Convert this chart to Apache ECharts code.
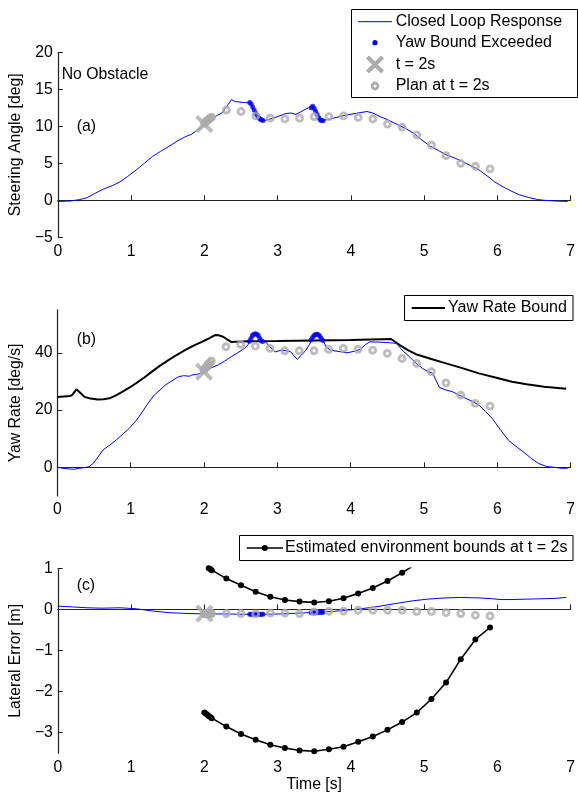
<!DOCTYPE html>
<html><head><meta charset="utf-8">
<script src="https://cdn.jsdelivr.net/npm/echarts@6/dist/echarts.min.js"></script>
<style>html,body{margin:0;padding:0;background:#fff}#c{width:578px;height:794px}</style>
</head><body><div id="c"></div><script>
// ---------- data ----------
const xTicks = [0,1,2,3,4,5,6,7];
const yTicksA = [-5,0,5,10,15,20];
const yTicksB = [0,20,40];
const yTicksC = [-3,-2,-1,0,1];

// (a) steering angle, closed loop response
const steerT = [0,0.17,0.3,0.4,0.5,0.62,0.75,0.85,0.95,1.07,1.18,1.29,1.4,1.52,1.63,1.74,1.82,1.88,1.95,2.01,2.1,2.18,2.24,2.3,2.37,2.42,2.46,2.55,2.62,2.66,2.70,2.74,2.78,2.82,2.87,3.0,3.1,3.18,3.25,3.36,3.42,3.47,3.52,3.56,3.60,3.68,3.76,3.95,4.1,4.22,4.3,4.4,4.5,4.62,4.75,4.85,4.95,5.07,5.2,5.3,5.42,5.52,5.63,5.75,5.86,5.96,6.08,6.2,6.3,6.42,6.55,6.64,6.8,6.96];
const steerV = [-0.15,-0.1,0.1,0.35,0.9,1.5,2.0,2.5,3.2,4.1,5.0,5.9,6.6,7.3,8.0,8.6,8.9,9.3,9.8,10.4,11.0,11.5,11.8,12.6,13.6,13.35,13.3,13.2,13.2,12.6,11.8,11.2,10.9,10.8,10.9,11.3,11.7,11.8,11.6,12.2,12.5,12.7,12.0,11.2,10.8,10.9,11.1,11.55,11.8,12.0,11.8,11.3,10.9,10.3,9.7,9.1,8.3,7.4,6.7,6.15,5.7,5.25,4.7,4.1,3.3,2.5,1.8,1.2,0.75,0.4,0.1,0.0,-0.1,-0.15];

// (b) yaw rate, closed loop response
const yawT = [0,0.1,0.22,0.3,0.37,0.43,0.49,0.55,0.62,0.7,0.8,0.9,0.98,1.07,1.16,1.24,1.32,1.4,1.47,1.55,1.65,1.72,1.8,1.83,1.92,2.01,2.1,2.19,2.28,2.37,2.46,2.55,2.6,2.62,2.66,2.70,2.74,2.78,2.84,2.9,2.97,3.05,3.13,3.18,3.27,3.33,3.39,3.44,3.48,3.54,3.58,3.62,3.67,3.72,3.8,3.95,4.05,4.13,4.2,4.26,4.4,4.53,4.62,4.7,4.8,4.9,4.98,5.05,5.12,5.21,5.3,5.39,5.48,5.57,5.66,5.75,5.84,5.93,6.04,6.15,6.27,6.38,6.47,6.56,6.67,6.78,6.87,6.96];
const yawV = [0,-0.4,-0.7,-0.3,-0.1,0.2,1.4,3.5,6.0,7.5,9.5,11.8,13.6,16.2,19.4,22.5,25.2,27.0,28.7,30.0,31.6,32.0,31.8,32.2,32.6,33.4,34.8,35.7,37.1,38.6,40.0,41.5,42.8,44.0,46.0,46.6,46.0,44.2,43.8,42.0,40.3,40.9,40.7,40.4,37.7,39.2,40.9,43.0,45.3,46.5,45.8,44.3,42.0,40.9,40.6,40.0,40.5,41.2,42.8,43.8,43.7,43.5,43.3,41.0,38.6,36.2,34.5,33.5,32.8,27.9,27.0,26.4,25.2,24.1,23.0,21.7,19.5,17.1,13.2,9.5,7.0,4.9,3.0,1.4,0.3,0,-0.3,-0.35];

// (b) yaw rate bound
const boundT = [0,0.17,0.2,0.26,0.3,0.37,0.45,0.55,0.63,0.71,0.8,0.89,0.98,1.07,1.18,1.29,1.4,1.52,1.63,1.74,1.85,1.97,2.05,2.15,2.2,2.26,2.32,2.37,2.6,3.0,3.5,4.0,4.55,4.67,4.78,4.89,5.1,5.3,5.5,5.75,6.0,6.2,6.4,6.64,6.94];
const boundV = [24.6,24.9,25.2,27.2,26.3,24.6,24.0,23.7,23.8,24.1,25.1,26.4,27.8,29.3,31.3,33.4,35.5,37.5,39.3,40.9,42.4,43.8,44.8,46.2,46.1,45.6,44.6,43.8,44.0,44.1,44.3,44.5,44.8,42.7,40.9,39.5,37.8,36.3,34.8,32.8,31.2,29.9,29.0,28.1,27.4];

// (c) lateral error, closed loop response
const latT = [0,0.2,0.4,0.6,0.85,1.07,1.3,1.52,1.79,2.0,2.3,2.6,2.8,3.05,3.3,3.5,3.75,3.95,4.2,4.4,4.6,4.85,5.05,5.3,5.5,5.75,5.93,6.05,6.2,6.4,6.64,6.8,6.94];
const latV = [0.08,0.06,0.04,0.03,0.04,0.015,-0.04,-0.08,-0.1,-0.11,-0.11,-0.12,-0.12,-0.11,-0.09,-0.07,-0.05,-0.02,0.03,0.08,0.14,0.21,0.25,0.28,0.29,0.28,0.26,0.24,0.24,0.25,0.26,0.27,0.29];

// yaw bound exceeded samples
const exT = [2.62,2.64,2.66,2.68,2.70,2.72,2.74,2.76,2.78,2.80,3.46,3.48,3.50,3.52,3.54,3.56,3.58,3.60,3.62];
const exA = [13.2,13.0,12.6,12.2,11.8,11.5,11.2,11.0,10.9,10.8,12.5,12.7,12.4,12.0,11.6,11.2,10.9,10.8,10.75];
const exB = [44.0,45.0,46.0,46.5,46.6,46.5,46.0,45.0,44.2,43.9,44.5,45.3,46.0,46.4,46.5,46.3,45.8,45.0,44.3];
const exC = [-0.12,-0.12,-0.12,-0.12,-0.12,-0.12,-0.12,-0.12,-0.12,-0.12,-0.08,-0.08,-0.08,-0.08,-0.08,-0.07,-0.07,-0.07,-0.07];

// t = 2s marker
const markT = [2.0];
const markA = [10.3];
const markB = [33.4];
const markC = [-0.1];

// plan at t = 2s
const planT = [2.00,2.02,2.04,2.06,2.08,2.10,2.3,2.5,2.7,2.9,3.1,3.3,3.5,3.7,3.9,4.1,4.3,4.5,4.7,4.9,5.1,5.3,5.5,5.7,5.9];
const planA = [10.4,10.6,10.8,10.95,11.1,11.25,12.2,12.0,11.4,11.1,11.0,11.1,11.3,11.3,11.4,11.2,11.0,10.3,9.9,8.85,7.45,6.05,5.0,4.6,4.25];
const planB = [34.0,34.7,35.4,36.0,36.6,37.2,42.1,42.9,42.3,41.5,40.7,40.7,40.7,41.2,41.5,41.2,40.9,39.8,38.0,36.3,33.4,29.5,25.2,22.3,21.4];
const planC = [-0.1,-0.1,-0.1,-0.1,-0.1,-0.1,-0.1,-0.1,-0.11,-0.09,-0.09,-0.1,-0.06,-0.05,-0.04,-0.02,-0.02,-0.02,-0.02,-0.05,-0.05,-0.08,-0.1,-0.14,-0.16];

// estimated environment bounds at t = 2s
const envUpper = [1.08,1.05,1.02,1.0,0.98,0.95,0.75,0.59,0.43,0.31,0.23,0.19,0.17,0.2,0.27,0.39,0.52,0.69,0.89,1.12,null,null,null,null,null];
const envLower = [-2.51,-2.53,-2.56,-2.59,-2.62,-2.65,-2.85,-3.03,-3.17,-3.29,-3.37,-3.43,-3.45,-3.40,-3.34,-3.22,-3.09,-2.93,-2.74,-2.51,-2.18,-1.78,-1.21,-0.73,-0.44];

// ---------- chart ----------
const FONT = '"Liberation Sans", Arial, Helvetica, sans-serif';
const GREY = '#ababab';
const BLUE = '#0000ff';
const AXC = '#222';
const pairs = (t, v) => t.map((x, i) => [x, v[i]]);
const minus = v => String(v).replace('-', '\u2212');
const XPATH = 'path://M0,1.6 L1.6,0 L5,3.4 L8.4,0 L10,1.6 L6.6,5 L10,8.4 L8.4,10 L5,6.6 L1.6,10 L0,8.4 L3.4,5 Z';

const grids = [
  {left: 54, top: 52.3, width: 519, height: 185},
  {left: 54, top: 309.8, width: 519, height: 186.2},
  {left: 54, top: 568.3, width: 519, height: 185}
];

function xAx(i) {
  return {
    type: 'value', gridIndex: i, min: 0, max: 7, interval: 1,
    axisLine: {lineStyle: {color: AXC, width: 1.2}},
    axisTick: {inside: true, length: 5, lineStyle: {color: AXC}, customValues: xTicks},
    axisLabel: {color: '#000', fontSize: 15.75, fontFamily: FONT, margin: 6, customValues: xTicks},
    splitLine: {show: false},
    name: i === 2 ? 'Time [s]' : '', nameLocation: 'middle', nameGap: 22,
    nameTextStyle: {color: '#000', fontSize: 15.75, fontFamily: FONT}
  };
}
function yAx(i, min, max, ticks, name) {
  return {
    type: 'value', gridIndex: i, min: min, max: max,
    axisLine: {show: true, lineStyle: {color: AXC, width: 1.2}},
    axisTick: {show: true, inside: true, length: 5, lineStyle: {color: AXC}, customValues: ticks},
    axisLabel: {color: '#000', fontSize: 15.75, fontFamily: FONT, margin: 5, customValues: ticks, formatter: minus},
    splitLine: {show: false},
    name: name, nameLocation: 'middle', nameGap: 24,
    nameTextStyle: {color: '#000', fontSize: 15.75, fontFamily: FONT}
  };
}

const series = [];
function blueLine(i, t, v) {
  series.push({name: 'Closed Loop Response', type: 'line', xAxisIndex: i, yAxisIndex: i,
    data: pairs(t, v), symbol: 'none', lineStyle: {color: BLUE, width: 1}, z: 2, clip: true});
}
function exceed(i, v) {
  series.push({name: 'Yaw Bound Exceeded', type: 'scatter', xAxisIndex: i, yAxisIndex: i,
    data: pairs(exT, v), symbol: 'circle', symbolSize: 5, itemStyle: {color: BLUE}, z: 3});
}
function mark(i, v) {
  series.push({name: 't = 2s', type: 'scatter', xAxisIndex: i, yAxisIndex: i,
    data: pairs(markT, v), symbol: XPATH, symbolSize: 18, itemStyle: {color: GREY}, z: 4});
}
function plan(i, v) {
  series.push({name: 'Plan at t = 2s', type: 'scatter', xAxisIndex: i, yAxisIndex: i,
    data: pairs(planT, v), symbol: 'circle', symbolSize: 6,
    itemStyle: {color: 'rgba(0,0,0,0)', borderColor: GREY, borderWidth: 2.8}, z: 5});
}

blueLine(0, steerT, steerV); exceed(0, exA); mark(0, markA); plan(0, planA);

series.push({name: 'Yaw Rate Bound', type: 'line', xAxisIndex: 1, yAxisIndex: 1,
  data: pairs(boundT, boundV), symbol: 'none', lineStyle: {color: '#000', width: 2}, z: 2});
blueLine(1, yawT, yawV); exceed(1, exB); mark(1, markB); plan(1, planB);

blueLine(2, latT, latV); exceed(2, exC); mark(2, markC); plan(2, planC);
[envUpper, envLower].forEach(vals => {
  series.push({name: 'Estimated environment bounds at t = 2s', type: 'line', xAxisIndex: 2, yAxisIndex: 2,
    data: pairs(planT, vals), symbol: 'circle', symbolSize: 6, showSymbol: true,
    itemStyle: {color: '#000'}, lineStyle: {color: '#000', width: 1.6}, z: 3, clip: true, connectNulls: false});
});

// ---------- legends & annotations (graphic) ----------
const txt = (x, y, s, size) => ({type: 'text', x: x, y: y, z: 101,
  style: {text: s, fill: '#000', font: (size || 15.75) + 'px ' + FONT, verticalAlign: 'middle', align: 'left'}});
function xPoly(cx, cy, s) {
  const p = [[0,1.6],[1.6,0],[5,3.4],[8.4,0],[10,1.6],[6.6,5],[10,8.4],[8.4,10],[5,6.6],[1.6,10],[0,8.4],[3.4,5]];
  return p.map(q => [cx + (q[0] - 5) * s / 10, cy + (q[1] - 5) * s / 10]);
}
const graphic = [
  // legend (a)
  {type: 'rect', z: 100, shape: {x: 351.5, y: 9.5, width: 226, height: 88}, style: {fill: '#fff', stroke: '#000', lineWidth: 1}},
  {type: 'line', z: 101, shape: {x1: 358, y1: 21.7, x2: 392, y2: 21.7}, style: {stroke: BLUE, lineWidth: 1}},
  txt(395.7, 21.7, 'Closed Loop Response', 16),
  {type: 'circle', z: 101, shape: {cx: 375, cy: 42.7, r: 2.6}, style: {fill: BLUE}},
  txt(395.7, 42.7, 'Yaw Bound Exceeded', 16),
  {type: 'polygon', z: 101, shape: {points: xPoly(375, 64.5, 18)}, style: {fill: GREY}},
  txt(395.7, 64.5, 't = 2s', 16),
  {type: 'circle', z: 101, shape: {cx: 375, cy: 86, r: 3}, style: {fill: 'none', stroke: GREY, lineWidth: 2.8}},
  txt(395.7, 86, 'Plan at t = 2s', 16),
  // legend (b)
  {type: 'rect', z: 100, shape: {x: 404.5, y: 295.5, width: 168.5, height: 25}, style: {fill: '#fff', stroke: '#000', lineWidth: 1}},
  {type: 'line', z: 101, shape: {x1: 411.7, y1: 308, x2: 445, y2: 308}, style: {stroke: '#000', lineWidth: 2}},
  txt(448, 308, 'Yaw Rate Bound', 16),
  // legend (c)
  {type: 'rect', z: 100, shape: {x: 239.5, y: 535.5, width: 333.5, height: 25}, style: {fill: '#fff', stroke: '#000', lineWidth: 1}},
  {type: 'line', z: 101, shape: {x1: 246.7, y1: 548, x2: 283, y2: 548}, style: {stroke: '#000', lineWidth: 1.6}},
  {type: 'circle', z: 101, shape: {cx: 264.8, cy: 548, r: 3}, style: {fill: '#000'}},
  txt(285, 548, 'Estimated environment bounds at t = 2s', 16),
  // annotations
  txt(61.7, 75, 'No Obstacle'),
  txt(76.7, 126.7, '(a)'),
  txt(76.7, 340, '(b)'),
  txt(76.7, 586, '(c)')
];

const chart = echarts.init(document.getElementById('c'), null, {renderer: 'canvas'});
chart.setOption({
  animation: false,
  backgroundColor: '#fff',
  textStyle: {fontFamily: FONT},
  grid: grids,
  xAxis: [xAx(0), xAx(1), xAx(2)],
  yAxis: [
    yAx(0, -5, 20, yTicksA, 'Steering Angle [deg]'),
    yAx(1, -10, 55, yTicksB, 'Yaw Rate [deg/s]'),
    yAx(2, -3.5, 1, yTicksC, 'Lateral Error [m]')
  ],
  series: series,
  graphic: graphic
});
</script></body></html>
